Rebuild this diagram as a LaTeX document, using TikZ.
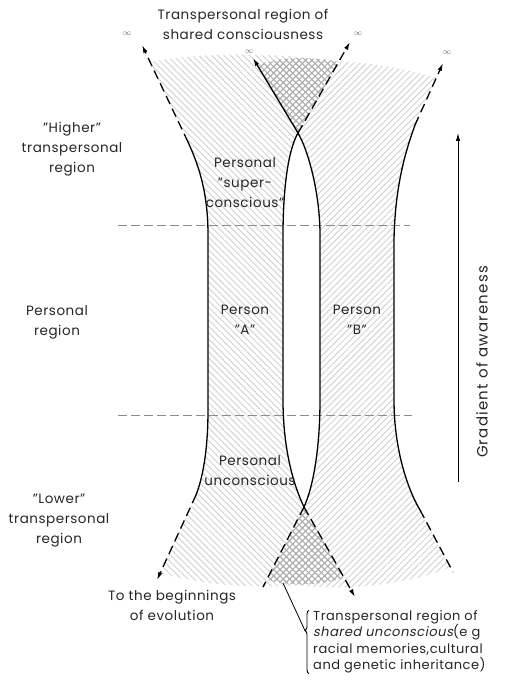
\documentclass[tikz,border=0pt]{standalone}
\usepackage{fontspec}
\setmainfont{Poppins}[LetterSpace=4]
\newfontfamily\slfont{Poppins}[FakeSlant=0.2,LetterSpace=4]
\newfontfamily\gradfont{Poppins}[LetterSpace=8]
\usetikzlibrary{arrows.meta,patterns.meta,decorations.pathreplacing,calc}
\begin{document}
\begin{tikzpicture}[x=1pt,y=-1pt,
  bound/.style={line width=1.3pt,line cap=round},
  dbound/.style={line width=1.3pt,dash pattern=on 9pt off 5pt},
  tipend/.style={-{Latex[length=8pt,width=4.5pt]}},
  lbl/.style={font=\fontsize{13.5}{20}\selectfont,align=center,inner sep=0pt,text=black!85},
  infl/.style={font=\fontsize{8}{8}\selectfont,text=black!60,inner sep=0pt},
  hatchA/.style={pattern={Lines[angle=-45,distance=4.5pt,line width=1pt]},pattern color=black!17},
  hatchB/.style={pattern={Lines[angle=45,distance=4.5pt,line width=1pt]},pattern color=black!17},
  crossA/.style={pattern={Lines[angle=-45,distance=4.5pt,line width=1pt]},pattern color=black!32},
  crossB/.style={pattern={Lines[angle=45,distance=4.5pt,line width=1pt]},pattern color=black!32},
  level/.style={line width=0.6pt,black!45,dash pattern=on 9pt off 4pt}
]
\useasboundingbox (0,0) rectangle (517,684);

% ---- hatched regions
\path[hatchA] (150,62) -- (188,142) .. controls (200,168) and (208,195) .. (208,235)
  -- (208,410) .. controls (208,440) and (205,472) .. (196,495) -- (160,573)
  .. controls (220,590) and (300,590) .. (344,578) -- (304,507)
  .. controls (292,482) and (283,445) .. (283,400) -- (283,235)
  .. controls (283,195) and (287,152) .. (298,133) -- (339,62)
  .. controls (280,52) and (200,52) .. (150,62) -- cycle;
\path[hatchB] (257,65) -- (298,133) .. controls (309,152) and (320,195) .. (320,235)
  -- (320,400) .. controls (320,445) and (314,485) .. (304,507) -- (267,580)
  .. controls (330,595) and (410,585) .. (450,567) -- (420,510)
  .. controls (408,490) and (394,450) .. (394,400) -- (394,240)
  .. controls (395,185) and (406,150) .. (415,125) -- (436,78)
  .. controls (380,60) and (300,55) .. (257,65) -- cycle;
% overlap (shared) regions
\path[crossA] (257,65) -- (298,133) -- (339,62) .. controls (310,56) and (280,57) .. (257,65) -- cycle;
\path[crossB] (257,65) -- (298,133) -- (339,62) .. controls (310,56) and (280,57) .. (257,65) -- cycle;
\path[crossA] (267,580) -- (304,507) -- (344,578) .. controls (318,586) and (290,586) .. (267,580) -- cycle;
\path[crossB] (267,580) -- (304,507) -- (344,578) .. controls (318,586) and (290,586) .. (267,580) -- cycle;

% ---- level lines
\coordinate (h1l) at (118,225); \coordinate (h1r) at (410,225);
\coordinate (h2l) at (118,415); \coordinate (h2r) at (412,415);
\draw[level] (h1l) -- (h1r);
\draw[level] (h2l) -- (h2r);

% ---- Person A, left boundary
\draw[bound] (188,142) .. controls (200,168) and (208,195) .. (208,235)
  -- (208,410) .. controls (208,440) and (205,472) .. (196,495);
\draw[dbound,tipend] (188,142) -- (142,45);
\draw[dbound,tipend] (196,495) -- (157,580);
% ---- Person A, right boundary
\draw[bound] (304,507) .. controls (292,482) and (283,445) .. (283,400) -- (283,235)
  .. controls (283,195) and (287,152) .. (298,133);
\draw[dbound,tipend] (298,133) -- (350,42);
\draw[dbound,tipend] (304,507) -- (355,597);
% ---- Person B, left boundary
\draw[bound] (304,507) .. controls (314,485) and (320,445) .. (320,400) -- (320,235)
  .. controls (320,195) and (309,152) .. (298,133);
\draw[bound,tipend] (298,133) -- (253,58);
\draw[dbound] (304,507) -- (263,587);
% ---- Person B, right boundary
\draw[bound] (415,125) .. controls (406,150) and (395,185) .. (394,240) -- (394,400)
  .. controls (394,450) and (408,490) .. (420,510);
\draw[dbound,tipend] (415,125) -- (443,63);
\draw[dbound] (420,510) -- (453,572);

% ---- infinity marks
\node[infl] (inf1) at (127,34) {$\infty$};
\node[infl] (inf2) at (249,52) {$\infty$};
\node[infl] (inf3) at (358,34) {$\infty$};
\node[infl] (inf4) at (447,53) {$\infty$};

% ---- labels
\node[lbl] (title) at (243,24) {Transpersonal region of\\shared consciousness};
\node[lbl] (higher) at (72,149) {"Higher"\\transpersonal\\region};
\node[lbl] (personal) at (57,322) {Personal\\region};
\node[lbl] (lower) at (59,521) {"Lower"\\transpersonal\\region};
\node[lbl] (evol) at (172,605) {To the beginnings\\of evolution};
\node[lbl] (supc) at (245,183) {Personal\\"super-\\conscious"};
\node[lbl] (pA) at (245,320) {Person\\"A"};
\node[lbl] (pB) at (357,320) {Person\\"B"};
\node[lbl] (punc) at (250,471) {Personal\\unconscious};
\node[lbl,font=\fontsize{13}{16.5}\selectfont,align=left,anchor=west] (shared) at (313,642)
  {Transpersonal region of\\{\slfont shared unconscious}(e g\\racial memories,cultural\\and genetic inheritance)};

% ---- gradient of awareness
\coordinate (g0) at (458,482);
\coordinate (g1) at (458,133);
\draw[line width=1pt,tipend] (g0) -- (g1);
\node[lbl,font=\fontsize{15}{16}\gradfont,rotate=90] (grad) at (482,362) {Gradient of awareness};

% ---- brace and leader for shared unconscious
\coordinate (br0) at ([xshift=-4pt]shared.south west);
\coordinate (br1) at ([xshift=-4pt]shared.north west);
\draw[line width=0.9pt,decorate,decoration={brace,amplitude=4pt,aspect=0.68}] (br0) -- (br1);
\coordinate (lead0) at (283,583);
\coordinate (lead1) at ($(br0)!0.68!(br1)+(-4,0)$);
\draw[line width=0.8pt] (lead0) -- (lead1);
\end{tikzpicture}
\end{document}
